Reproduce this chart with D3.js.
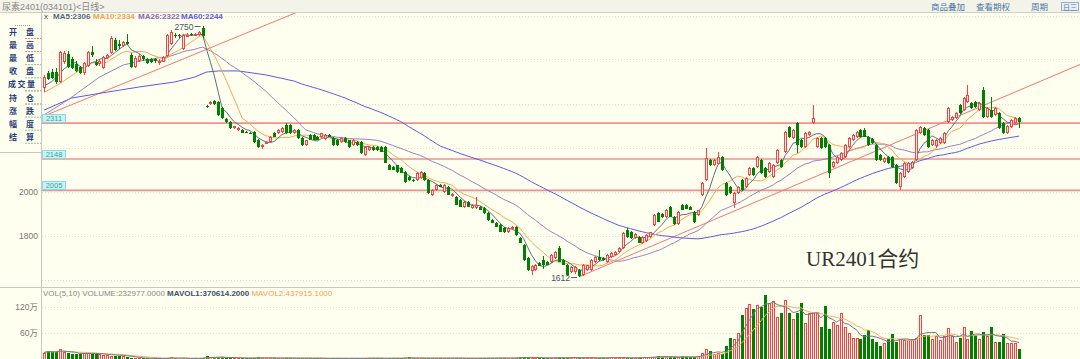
<!DOCTYPE html>
<html>
<head>
<meta charset="utf-8">
<script src="https://cdn.jsdelivr.net/npm/d3@7/dist/d3.min.js"></script>
<style>
  body { margin: 0; background: #fffff0; }
  svg { display: block; font-family: "Liberation Sans", Arial, "Noto Sans CJK SC", sans-serif; }
</style>
</head>
<body>
<div id="chart"></div>
<script>
// UR2401 daily K-line, [open, high, low, close]
const candles = [
  [2472,2528,2452,2520],[2540,2548,2505,2510],[2545,2555,2510,2515],[2545,2560,2490,2498],[2500,2640,2495,2634],
  [2590,2640,2580,2630],[2625,2640,2560,2565],[2600,2610,2555,2560],[2580,2595,2545,2550],[2565,2570,2535,2540],
  [2540,2590,2530,2585],[2570,2640,2565,2632],[2632,2660,2612,2622],[2590,2600,2570,2575],[2580,2600,2570,2592],
  [2562,2615,2555,2610],[2605,2625,2600,2620],[2630,2705,2625,2698],[2690,2700,2640,2645],[2670,2690,2650,2660],
  [2660,2685,2655,2680],[2680,2715,2665,2670],[2620,2630,2560,2565],[2565,2615,2560,2605],[2595,2625,2590,2615],
  [2615,2620,2595,2600],[2600,2605,2580,2585],[2600,2605,2585,2590],[2600,2605,2585,2592],[2585,2600,2575,2595],
  [2590,2615,2588,2610],[2615,2715,2610,2710],[2670,2735,2665,2725],[2712,2720,2700,2705],[2710,2718,2700,2708],
  [2650,2715,2645,2710],[2710,2720,2705,2712],[2715,2722,2705,2710],[2712,2720,2708,2715],[2712,2728,2708,2724],
  [2745,2750,2700,2705],
  [2390,2395,2378,2384],[2400,2412,2395,2408],[2410,2415,2395,2400],[2407,2410,2345,2348],[2380,2385,2330,2334],
  [2330,2335,2312,2318],[2316,2320,2285,2289],[2290,2300,2285,2296],[2280,2292,2276,2289],[2280,2285,2264,2266],
  [2270,2274,2264,2266],[2268,2270,2262,2264],[2270,2275,2222,2225],[2234,2238,2200,2202],[2202,2214,2195,2211],
  [2220,2228,2215,2225],[2225,2252,2222,2248],[2266,2270,2246,2248],[2266,2282,2262,2280],[2270,2292,2268,2289],
  [2302,2311,2262,2266],[2302,2308,2262,2266],[2266,2282,2262,2280],[2280,2284,2240,2243],[2243,2246,2208,2211],
  [2211,2236,2208,2234],[2257,2262,2232,2234],[2257,2260,2232,2236],[2248,2252,2232,2234],[2248,2268,2244,2266],
  [2240,2260,2236,2257],[2257,2260,2246,2248],[2243,2246,2208,2211],[2234,2238,2208,2211],[2225,2246,2220,2243],
  [2243,2246,2222,2225],[2234,2236,2200,2202],[2211,2240,2208,2234],[2225,2230,2208,2211],[2225,2228,2172,2175],
  [2166,2205,2160,2202],[2190,2205,2186,2202],[2202,2206,2186,2189],[2202,2205,2186,2189],[2202,2205,2178,2180],
  [2202,2206,2128,2130],[2120,2124,2096,2098],[2110,2115,2096,2098],[2120,2122,2086,2089],[2106,2110,2082,2084],
  [2089,2094,2040,2043],[2066,2070,2048,2052],[2052,2058,2042,2046],[2052,2088,2048,2084],[2062,2092,2058,2089],
  [2084,2088,2050,2052],[2052,2056,1990,1993],[1984,2010,1980,2007],[2007,2032,2004,2030],[2030,2034,2020,2022],
  [1998,2034,1994,2030],[2020,2024,1982,1984],[1980,1992,1976,1988],[1975,1978,1937,1939],[1961,1964,1928,1930],
  [1930,1955,1926,1952],[1952,1955,1928,1930],[1925,1942,1920,1939],[1925,1975,1920,1939],[1930,1934,1914,1916],
  [1925,1930,1900,1902],[1902,1906,1868,1870],[1870,1874,1855,1857],[1857,1860,1838,1840],[1848,1852,1814,1816],
  [1835,1838,1812,1814],[1814,1838,1810,1835],[1830,1845,1826,1840],[1839,1842,1800,1802],[1789,1792,1764,1766],
  [1757,1760,1686,1689],[1698,1702,1640,1643],[1640,1666,1620,1660],[1645,1672,1640,1666],[1675,1680,1660,1662],
  [1689,1705,1650,1666],[1680,1684,1664,1666],[1680,1714,1676,1711],[1698,1730,1694,1725],[1743,1752,1678,1680],
  [1689,1692,1664,1666],[1666,1670,1618,1620],[1632,1660,1628,1657],[1632,1660,1626,1655],[1643,1648,1612,1616],
  [1620,1670,1616,1666],[1643,1668,1640,1666],[1643,1692,1640,1689],[1680,1705,1676,1702],[1702,1734,1686,1689],
  [1698,1702,1686,1690],[1680,1714,1676,1711],[1702,1725,1698,1720],[1711,1730,1708,1725],[1725,1750,1720,1745],
  [1743,1815,1740,1811],[1825,1832,1790,1793],[1815,1820,1786,1790],[1790,1812,1786,1805],[1793,1796,1764,1766],
  [1766,1796,1760,1793],[1775,1805,1770,1802],[1793,1818,1790,1815],[1848,1898,1845,1893],[1902,1908,1860,1862],
  [1900,1904,1880,1884],[1884,1920,1880,1916],[1930,1935,1882,1884],[1884,1890,1846,1850],[1850,1912,1846,1907],
  [1939,1944,1914,1916],[1939,1942,1920,1922],[1930,1934,1914,1916],[1907,1910,1858,1861],[1893,1918,1888,1916],
  [1984,2042,1980,2038],
  [2052,2197,2048,2152],[2143,2150,2116,2120],[2120,2148,2115,2143],[2125,2180,2120,2157],[2157,2162,2094,2098],
  [2038,2042,1980,1984],[2020,2026,1990,1993],[1950,1998,1925,1993],[1993,2024,1988,2020],[2052,2056,2004,2007],
  [2020,2064,2016,2061],[2075,2110,2070,2106],[2106,2110,2072,2075],[2111,2160,2106,2157],[2143,2148,2080,2084],
  [2106,2110,2062,2066],[2088,2134,2084,2130],[2066,2124,2060,2120],[2130,2192,2126,2188],[2143,2148,2108,2111],
  [2180,2274,2176,2270],[2293,2300,2244,2248],[2243,2284,2238,2280],[2311,2318,2175,2211],[2234,2238,2198,2202],
  [2202,2270,2198,2266],[2257,2274,2252,2270],[2311,2393,2306,2334],[2202,2247,2198,2243],[2243,2248,2194,2197],
  [2243,2246,2198,2202],[2211,2216,2060,2084],[2111,2138,2106,2134],[2130,2160,2126,2157],[2143,2178,2138,2175],
  [2157,2215,2152,2211],[2202,2247,2198,2243],[2234,2261,2230,2257],[2248,2274,2244,2270],[2280,2284,2244,2248],
  [2280,2290,2246,2250],[2248,2252,2208,2211],[2240,2244,2216,2220],[2211,2215,2140,2143],[2166,2170,2140,2143],
  [2134,2156,2130,2152],[2157,2160,2126,2130],[2157,2160,2106,2111],[2120,2124,2034,2038],[2020,2088,2005,2084],
  [2066,2134,2062,2130],[2090,2134,2086,2130],[2106,2138,2102,2134],[2143,2284,2140,2280],[2266,2297,2262,2293],
  [2289,2294,2254,2257],[2280,2284,2198,2202],[2211,2238,2206,2234],[2205,2238,2200,2234],[2220,2247,2216,2243],
  [2220,2270,2216,2266],[2316,2384,2312,2380],[2325,2343,2320,2339],[2334,2361,2330,2357],[2393,2398,2352,2357],
  [2370,2430,2366,2425],[2407,2484,2402,2439],[2402,2408,2376,2380],[2405,2410,2380,2384],[2370,2406,2366,2402],
  [2461,2475,2335,2339],[2339,2384,2334,2380],[2370,2430,2334,2339],[2348,2384,2344,2380],[2357,2362,2285,2289],
  [2311,2316,2262,2266],[2266,2304,2262,2300],[2293,2330,2288,2325],[2311,2338,2306,2334],[2334,2340,2290,2316]
];

// volume in 万手
const volumes = [
  16,20,17,17,25,17,15,13,12,13,15,16,13,12,12,11,11,9,9,9,9,6,4,3,3,2.5,
  3,2,2.5,3,2,4,5,3,2,3,2.5,2,3,2,4,
  9,5,4,5,6,4,3,4,3,3, 2.5,3,4,5,4,3,3,4,3,3, 4,3,3,2.5,3,4,3,2.5,3,3,
  2.5,2,3,3,2.5,3,2,3,2.5,3, 3,4,3,2.5,3,2,3,3.5,3,2.5, 4,5,3,3,2.5,3,4,3,2.5,3,
  3,4,3,3,2.5,3,3.5,3,2.5,3,
  3,4,3,3,4,3.5,3,3,4,5, 6,5,4,4,3.5,3,3,4,4,5, 4,3.5,4,5,4,3.5,4,4,3,3.5,
  4,4,5,4.5,4,3.5,4,3,4,4.5, 5,5,6,6.5,9,6,5,5.5,6,5, 7,6,5,6,7,
  16,23,19,13,16,12,32,50,48,60, 101,117,127,115,125,120,148,129,134,97,
  106,136,106,92,106,129,83,106,106,108, 74,122,69,85,78,106,74,60,50,50,
  46,55,67,48,39,32,37,46,58,41, 46,44,44,48,50,101,55,55,46,53,
  44,53,71,53,39,50,74,48,65,55, 48,62,53,74,39,39,58,37,37,37, 23
];

// moving-average values before their window fills: [candle index, price]
const ma5Head = [[0, 2480], [2, 2500]];
const ma10Head = [[0, 2450], [4, 2490]];
const ma26Head = [[0, 2348], [6, 2416], [14, 2520], [20, 2575]];
const ma60Head = [[0, 2370], [7, 2425], [16, 2452], [24, 2475], [33, 2498], [38, 2520], [41, 2543], [44, 2548], [49, 2548], [56, 2530]];

const levels = [2311, 2148, 2005];
const trendLines = [[[0, 2343], [64, 2816]], [[135, 1612], [262, 2582]]];
const priceTicks = [1800, 2000];
const priceGrid = [1600, 1800, 2000, 2200, 2400, 2600, 2800];
const volTicks = [60, 120];
const maLegend = [["MA5:2306", "#56677a"], ["MA10:2334", "#f5a04a"], ["MA26:2322", "#8a68b8"], ["MA60:2244", "#5a5ae6"]];
const headerLinks = ["商品叠加", "查看期权", "周期"];
const infoRows = [["开", "盘"], ["最", "高"], ["最", "低"], ["收", "盘"], ["成交量"], ["持", "仓"], ["涨", "跌"], ["幅", "度"], ["结", "算"]];
const infoMarks = ["#f08080", "#f08080", "#8cc88c", "#8cc88c", "#8890a0", "#8890a0", "#8cc88c", "#8cc88c", "#8cc88c"];

const width = 1080, height = 359;
const bg = "#fffff0", red = "#ff4040", green = "#008000";
const N = candles.length;
const left = 42, right = 1080, pTop = 13, pBottom = 287;

const svg = d3.select("#chart").append("svg")
    .attr("width", width)
    .attr("height", height)
    .style("background", bg);

const xi = d3.scaleLinear().domain([0, N - 1]).range([44, 1019]);
const y = d3.scaleLinear().domain([1600, 2800]).range([279.5, 15.5]);
const yv = d3.scaleLinear().domain([0, 120]).range([359.5, 307]);
const cx = i => Math.round(xi(i)) + 0.5;

const defs = svg.append("defs");
defs.append("clipPath").attr("id", "clipP").append("rect")
    .attr("x", left).attr("y", pTop).attr("width", right - left).attr("height", pBottom - pTop);
defs.append("clipPath").attr("id", "clipV").append("rect")
    .attr("x", left).attr("y", pBottom + 1).attr("width", right - left).attr("height", height - pBottom);

// header bar
svg.append("rect").attr("width", width).attr("height", 12).attr("fill", "#f3f3ea");
svg.append("line").attr("x1", 0).attr("x2", width).attr("y1", 12.5).attr("y2", 12.5).attr("stroke", "#cfcfc4");
svg.append("text").attr("x", 2).attr("y", 9.5).attr("font-size", 9).attr("fill", "#888")
    .text("尿素2401(034101)<日线>");
const lx = [931, 976, 1031];
headerLinks.forEach((t, k) => {
  svg.append("text").attr("x", lx[k]).attr("y", 9.5).attr("font-size", 8.5).attr("fill", "#4a78a8").text(t);
});
svg.append("rect").attr("x", 1061.5).attr("y", 2.5).attr("width", 17).attr("height", 8)
    .attr("fill", "#e6eef5").attr("stroke", "#9ab0c8");
svg.append("text").attr("x", 1070).attr("y", 9.5).attr("text-anchor", "middle").attr("font-size", 7)
    .attr("fill", "#5080b0").text("日三");

// grid
const grid = svg.append("g").attr("stroke", "#e0e0d2").attr("stroke-dasharray", "1,2");
priceGrid.forEach(p => {
  grid.append("line").attr("x1", left).attr("x2", right)
      .attr("y1", Math.round(y(p)) + 0.5).attr("y2", Math.round(y(p)) + 0.5);
});
volTicks.forEach(v => {
  grid.append("line").attr("x1", left).attr("x2", right)
      .attr("y1", Math.round(yv(v)) + 0.5).attr("y2", Math.round(yv(v)) + 0.5);
});

// frame lines
svg.append("line").attr("x1", 41.5).attr("x2", 41.5).attr("y1", 13).attr("y2", height).attr("stroke", "#c8c8c0");
svg.append("line").attr("x1", 0).attr("x2", width).attr("y1", pBottom + 0.5).attr("y2", pBottom + 0.5).attr("stroke", "#c8c8c0");

// axis labels
priceTicks.forEach(p => {
  svg.append("text").attr("x", 38).attr("y", y(p) + 3).attr("text-anchor", "end")
      .attr("font-size", 8.5).attr("fill", "#777").text(p);
});
volTicks.forEach(v => {
  svg.append("text").attr("x", 38).attr("y", yv(v) + 3).attr("text-anchor", "end")
      .attr("font-size", 8.5).attr("fill", "#777").text(v + "万");
});

const price = svg.append("g").attr("clip-path", "url(#clipP)");

// support / resistance levels
levels.forEach(p => {
  price.append("line").attr("x1", left).attr("x2", right)
      .attr("y1", y(p)).attr("y2", y(p))
      .attr("stroke", "#f29090").attr("stroke-width", 1.6);
});

// trend lines
trendLines.forEach(t => {
  price.append("line")
      .attr("x1", xi(t[0][0])).attr("y1", y(t[0][1]))
      .attr("x2", xi(t[1][0])).attr("y2", y(t[1][1]))
      .attr("stroke", "#f07878").attr("stroke-width", 1);
});

// moving averages
const closes = candles.map(d => d[3]);
function maLine(vals, n, head) {
  const pts = head.filter(d => d[0] < n - 1);
  for (let i = n - 1; i < vals.length; i++) {
    pts.push([i, d3.mean(vals.slice(i - n + 1, i + 1))]);
  }
  return pts;
}
function avgPartial(vals, n) {
  return vals.map((d, i) => [i, d3.mean(vals.slice(Math.max(0, i - n + 1), i + 1))]);
}
const pline = d3.line().x(d => xi(d[0])).y(d => y(d[1]));
[[60, ma60Head, "#5a5ae6"], [26, ma26Head, "#9a80c4"], [10, ma10Head, "#f5a850"], [5, ma5Head, "#5e6e80"]]
  .forEach(m => {
    price.append("path")
        .datum(maLine(closes, m[0], m[1]))
        .attr("fill", "none")
        .attr("stroke", m[2])
        .attr("stroke-width", 1)
        .attr("d", pline);
  });

// candles
const cg = price.append("g").attr("shape-rendering", "crispEdges");
candles.forEach((d, i) => {
  const up = d[3] >= d[0];
  const col = up ? red : green;
  const x0 = cx(i);
  cg.append("line").attr("x1", x0).attr("x2", x0)
      .attr("y1", Math.round(y(d[1]))).attr("y2", Math.round(y(d[2])))
      .attr("stroke", col);
  const top = Math.round(y(Math.max(d[0], d[3])));
  const h = Math.max(1, Math.round(y(Math.min(d[0], d[3]))) - top);
  if (up) {
    cg.append("rect").attr("x", x0 - 1).attr("y", top + 0.5).attr("width", 2).attr("height", Math.max(1, h - 1))
        .attr("fill", "#fff4f0").attr("stroke", col);
  } else {
    cg.append("rect").attr("x", x0 - 1.5).attr("y", top).attr("width", 3).attr("height", h)
        .attr("fill", col);
  }
});

// high / low marks
const hi = d3.maxIndex(candles, d => d[1]);
const lo = d3.minIndex(candles, d => d[2]);
[[hi, candles[hi][1]], [lo, candles[lo][2]]].forEach(m => {
  const px = xi(m[0]), py = Math.round(y(m[1])) + 0.5;
  price.append("line").attr("x1", px - 8).attr("x2", px - 2).attr("y1", py).attr("y2", py).attr("stroke", "#556677");
  price.append("text").attr("x", px - 9).attr("y", py + 3).attr("text-anchor", "end")
      .attr("font-size", 8.5).attr("fill", "#445566").text(m[1]);
});

// level tags
levels.forEach(p => {
  const ly = Math.round(y(p));
  svg.append("rect").attr("x", 42.5).attr("y", ly - 8.5).attr("width", 23).attr("height", 8)
      .attr("fill", "#c8f3f3").attr("stroke", "#8adcdc");
  svg.append("text").attr("x", 54).attr("y", ly - 1.8).attr("text-anchor", "middle")
      .attr("font-size", 7.5).attr("fill", "#3aa6a6").text(p);
});

// MA legend
svg.append("text").attr("x", 44).attr("y", 19).attr("font-size", 8).attr("fill", "#445").text("x");
const mx = [53, 93, 138, 181];
maLegend.forEach((d, k) => {
  svg.append("text").attr("x", mx[k]).attr("y", 19).attr("font-size", 8).attr("font-weight", "bold")
      .attr("fill", d[1]).text(d[0]);
});

svg.append("text").attr("x", 806).attr("y", 266)
    .attr("font-family", "'Liberation Serif', 'Noto Sans CJK SC', serif")
    .attr("font-size", 21).attr("fill", "#333").text("UR2401合约");

// volume panel
const vol = svg.append("g").attr("clip-path", "url(#clipV)");
const vg = vol.append("g").attr("shape-rendering", "crispEdges");
volumes.forEach((v, i) => {
  const d = candles[i];
  const up = d[3] >= d[0];
  const x0 = cx(i);
  const top = Math.round(yv(v));
  if (up) {
    vg.append("rect").attr("x", x0 - 1).attr("y", top + 0.5).attr("width", 2).attr("height", 360 - top)
        .attr("fill", "#fff4f0").attr("stroke", red);
  } else {
    vg.append("rect").attr("x", x0 - 1.5).attr("y", top).attr("width", 3).attr("height", 360 - top)
        .attr("fill", green);
  }
});
const vline = d3.line().x(d => xi(d[0])).y(d => yv(d[1]));
[[10, "#f5b060"], [5, "#6a7a8a"]].forEach(m => {
  vol.append("path").datum(avgPartial(volumes, m[0]))
      .attr("fill", "none").attr("stroke", m[1]).attr("stroke-width", 1).attr("d", vline);
});

const vt = svg.append("text").attr("x", 43).attr("y", 296).attr("font-size", 8);
vt.append("tspan").attr("fill", "#888").text("VOL(5,10) VOLUME:232977.0000 ");
vt.append("tspan").attr("fill", "#3e5070").attr("font-weight", "bold").text("MAVOL1:370614.2000 ");
vt.append("tspan").attr("fill", "#f5a04a").text("MAVOL2:437915.1000");

// info panel on the left
svg.append("line").attr("x1", 0).attr("x2", 42).attr("y1", 152.5).attr("y2", 152.5).attr("stroke", "#c8c8c0");
svg.append("line").attr("x1", 15).attr("x2", 30).attr("y1", 25.5).attr("y2", 25.5)
    .attr("stroke", "#999").attr("stroke-dasharray", "1,1");
infoRows.forEach((r, k) => {
  const ry = 32 + k * 13.1;
  const xs = r.length === 2 ? [13, 30] : [12, 21.5, 31];
  const chars = r.length === 2 ? r : r[0].split("");
  chars.forEach((c, j) => {
    svg.append("text").attr("x", xs[j]).attr("y", ry + 3).attr("text-anchor", "middle")
        .attr("font-family", "'Noto Sans CJK SC', sans-serif")
        .attr("font-size", 8).attr("font-weight", "bold").attr("fill", "#2a3f78").text(c);
  });
  svg.append("line").attr("x1", 25).attr("x2", 41).attr("y1", ry + 6.5).attr("y2", ry + 6.5)
      .attr("stroke", infoMarks[k]).attr("stroke-dasharray", "2,1");
});
</script>
</body>
</html>
